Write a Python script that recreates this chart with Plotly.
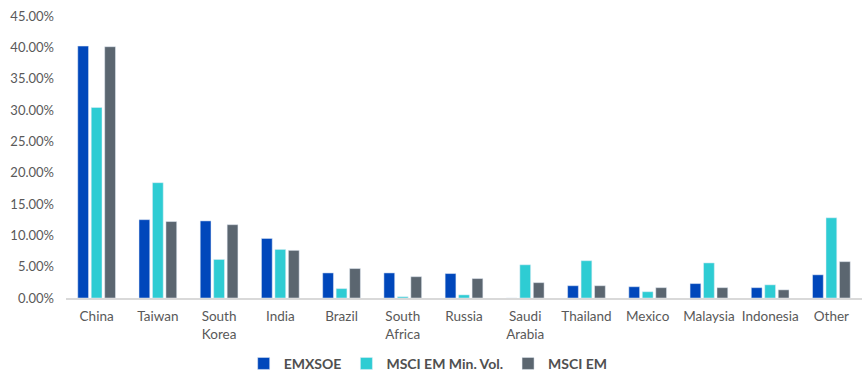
import plotly.graph_objects as go

categories = ["China", "Taiwan", "South<br>Korea", "India", "Brazil", "South<br>Africa",
              "Russia", "Saudi<br>Arabia", "Thailand", "Mexico", "Malaysia", "Indonesia", "Other"]
emxsoe = [40.2, 12.5, 12.3, 9.5, 4.0, 4.0, 3.9, 0.0, 1.96, 1.8, 2.3, 1.65, 3.7]
minvol = [30.4, 18.4, 6.15, 7.75, 1.5, 0.2, 0.5, 5.3, 5.95, 1.0, 5.6, 2.1, 12.8]
msciem = [40.1, 12.2, 11.7, 7.6, 4.7, 3.4, 3.1, 2.45, 1.96, 1.65, 1.65, 1.3, 5.8]
yticks = [0, 5, 10, 15, 20, 25, 30, 35, 40, 45]

font_family = "Lato, 'Open Sans', sans-serif"
grey = "#595959"

fig = go.Figure()
fig.add_trace(go.Bar(x=categories, y=emxsoe, name="EMXSOE", marker_color="#0047BB"))
fig.add_trace(go.Bar(x=categories, y=minvol, name="MSCI EM Min. Vol.", marker_color="#2ECCD3"))
fig.add_trace(go.Bar(x=categories, y=msciem, name="MSCI EM", marker_color="#5B6670"))

fig.update_layout(
    width=864, height=383,
    margin=dict(l=66, r=2, t=16, b=85, autoexpand=False),
    paper_bgcolor="white", plot_bgcolor="white",
    barmode="group", bargap=0.34, bargroupgap=0.2,
    font=dict(family=font_family, size=13, color=grey),
    showlegend=True,
    legend=dict(orientation="h", x=0.455, xanchor="center", yref="container", y=0.05, yanchor="middle",
                font=dict(size=14, color="#505050", family=font_family, weight="bold"),
                itemwidth=30, traceorder="normal"),
)
fig.update_xaxes(showline=True, linecolor="#d9d9d9", linewidth=1.5, ticks="",
                 tickfont=dict(size=13.5, color=grey), showgrid=False, ticklabelstandoff=5)
fig.update_yaxes(range=[0, 45], tickvals=yticks, ticktext=[f"{v:.2f}%" for v in yticks],
                 showgrid=False, zeroline=False, showline=False,
                 tickfont=dict(size=13, color=grey), ticklabelstandoff=11)

fig.write_html("out.html")
